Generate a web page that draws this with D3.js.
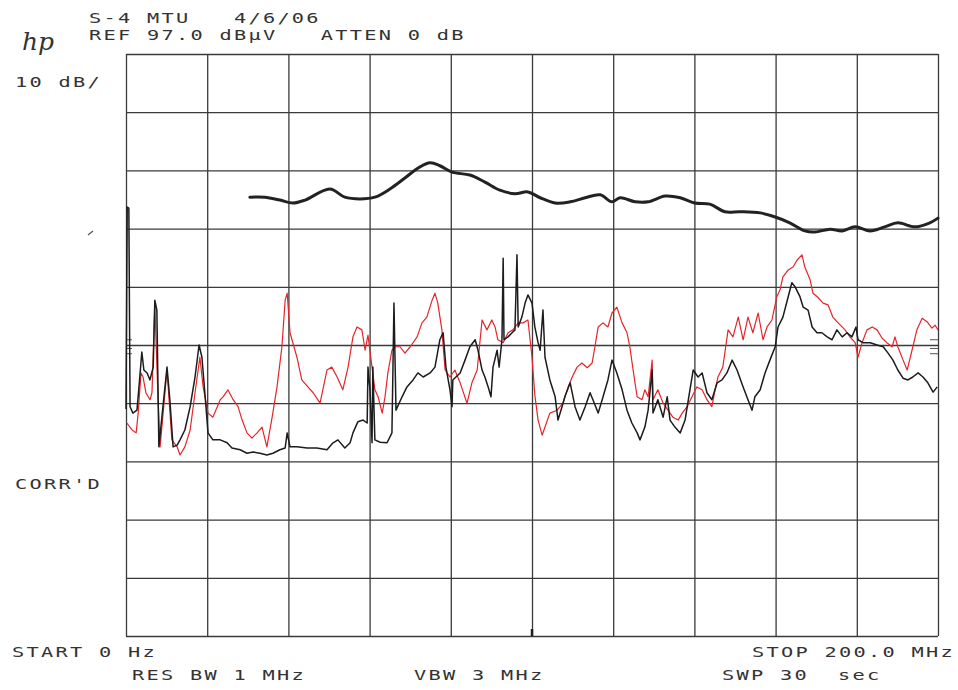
<!DOCTYPE html>
<html>
<head>
<meta charset="utf-8">
<script src="https://cdn.jsdelivr.net/npm/d3@7"></script>
<style>
  html, body { margin: 0; padding: 0; background: #ffffff; }
  svg { display: block; }
</style>
</head>
<body>
<svg id="plot" width="958" height="690"></svg>
<script>
// Spectrum analyzer sweep: 0-200 MHz, REF 97.0 dBuV, 10 dB/div

// Graticule divisions
const gridFreq = [0, 20, 40, 60, 80, 100, 120, 140, 160, 180, 200];      // MHz
const gridLevel = [-3, 7, 17, 27, 37, 47, 57, 67, 77, 87, 97];           // dBuV

// Header / footer annotation strings
const headerLines = ["S-4 MTU   4/6/06", "REF 97.0 dB\u00B5V   ATTEN 0 dB"];
const scaleLabel = "10 dB/";
const corrLabel = "CORR'D";
const startLabel = "START 0 Hz";
const stopLabel = "STOP 200.0 MHz";
const footerLabels = ["RES BW 1 MHz", "VBW 3 MHz", "SWP 30  sec"];

// Limit line [MHz, dBuV]
const limitLine = [
  [30.5,72.4],[34.2,72.4],[37.9,71.9],[41.1,71.4],[44.1,71.9],[50.2,73.8],[53.9,72.4],
  [57.6,72.1],[61.3,72.4],[65.0,73.8],[68.7,75.7],[72.4,77.6],[74.9,78.3],[77.3,77.8],
  [80.3,76.7],[84.7,76.2],[88.4,75.0],[92.1,73.6],[95.8,73.0],[99.0,73.3],[102.0,72.3],
  [105.7,71.4],[109.4,71.6],[113.1,72.3],[116.8,72.8],[119.7,71.6],[121.7,72.3],
  [125.4,71.6],[128.6,71.6],[132.8,72.6],[136.5,72.3],[140.1,71.4],[143.8,71.2],
  [147.5,69.9],[151.2,69.9],[156.2,69.7],[159.9,69.0],[163.5,68.0],[167.2,66.6],
  [169.7,66.4],[173.4,66.9],[176.4,66.6],[179.6,67.3],[183.3,66.6],[186.9,67.3],
  [190.1,68.0],[194.3,67.3],[198.0,68.0],[200.0,68.8]
];

// Trace A (red) [MHz, dBuV]
const redTrace = [
  [0.2,33.6],[1.5,32.4],[2.5,31.9],[3.0,35.3],[3.7,42.2],[4.2,41.5],[4.9,38.8],[5.9,37.6],
  [6.4,38.8],[7.1,53.9],[7.9,37.6],[8.4,29.5],[10.1,42.7],[11.3,30.7],[12.6,29.5],[13.3,28.1],
  [14.5,29.5],[15.8,32.4],[17.0,38.8],[18.2,44.9],[19.0,39.8],[20.2,35.3],[21.4,34.6],
  [23.2,37.6],[23.9,38.1],[25.1,39.3],[26.4,37.6],[27.6,36.4],[28.6,34.1],[29.8,31.9],
  [31.0,31.0],[32.3,31.9],[33.5,32.9],[34.7,29.5],[36.0,34.6],[37.2,39.8],[38.4,46.7],
  [39.2,54.7],[39.7,55.9],[40.4,49.1],[42.1,44.9],[43.3,41.0],[44.8,39.8],[46.1,38.8],
  [47.8,37.0],[49.5,42.7],[50.7,43.2],[52.0,41.5],[53.4,39.3],[54.7,43.2],[55.9,48.4],
  [56.9,50.1],[58.1,49.6],[58.9,46.1],[59.6,48.7],[60.6,43.2],[61.3,39.3],[62.1,38.1],
  [63.1,35.3],[63.8,38.1],[64.5,42.2],[65.5,46.1],[66.3,46.7],[67.5,46.7],[68.7,45.6],
  [70.0,46.7],[71.7,48.4],[72.9,50.8],[74.1,51.8],[75.4,54.7],[76.1,55.9],[76.8,54.2],
  [77.8,49.6],[78.6,42.7],[79.8,41.5],[81.0,42.7],[82.3,40.5],[84.0,37.0],[85.2,40.5],
  [86.5,42.7],[87.7,51.3],[88.9,49.6],[90.1,51.3],[90.9,50.1],[91.6,47.9],[92.9,47.4],
  [94.1,49.1],[95.3,49.6],[96.6,50.8],[97.8,50.8],[99.0,51.3],[100.0,44.9],[100.7,38.4],
  [101.5,34.1],[102.5,31.5],[103.2,32.9],[104.4,35.3],[106.2,35.8],[107.6,37.0],[108.9,39.8],
  [109.9,41.5],[111.1,43.2],[112.3,43.9],[113.6,43.1],[114.8,43.9],[115.5,46.7],[116.3,50.1],
  [117.5,50.8],[118.7,50.1],[119.7,52.5],[120.9,53.5],[122.2,50.8],[123.4,49.1],[124.1,46.7],
  [124.9,42.7],[125.9,38.1],[127.1,37.6],[127.8,39.3],[128.6,38.1],[129.6,44.4],[129.8,37.6],
  [131.0,39.3],[132.3,37.0],[133.5,35.8],[134.7,34.6],[136.0,34.1],[137.0,35.3],[138.2,36.4],
  [139.4,38.1],[140.6,39.8],[141.9,39.3],[143.1,37.6],[144.3,36.4],[145.1,39.3],[145.8,41.5],
  [147.0,43.2],[148.3,49.6],[149.5,48.4],[150.8,51.8],[152.0,47.9],[153.2,51.8],[154.4,49.1],
  [155.7,52.5],[156.9,47.9],[157.9,50.1],[159.1,51.3],[160.3,55.3],[161.1,56.5],[161.8,58.7],
  [163.1,59.9],[164.3,60.4],[165.3,61.6],[166.5,62.5],[167.2,60.4],[168.5,58.2],[169.2,55.9],
  [170.4,55.2],[171.7,54.2],[172.9,53.9],[174.1,51.8],[175.4,50.8],[177.1,49.6],[178.3,48.4],
  [179.6,47.4],[180.3,44.9],[181.3,47.4],[182.5,49.6],[183.8,50.1],[185.0,49.6],[186.2,48.2],
  [187.4,47.4],[188.7,46.7],[189.4,48.4],[190.1,46.7],[191.4,44.4],[192.4,42.7],[193.6,46.1],
  [194.8,49.6],[196.1,51.6],[197.3,51.0],[198.5,49.9],[199.3,50.4],[200.0,49.6]
];

// Trace B (black) [MHz, dBuV]
const blackTrace = [
  [0.0,36.0],[0.3,70.7],[0.7,70.5],[1.0,36.4],[1.7,35.3],[2.7,35.8],[3.2,39.8],[3.9,45.8],
  [4.4,42.7],[5.2,42.2],[5.9,41.0],[6.7,43.2],[7.1,54.7],[7.6,53.0],[8.1,29.5],[9.1,36.4],
  [10.1,43.2],[10.8,37.6],[11.6,29.5],[12.6,29.8],[13.3,30.7],[14.5,32.4],[15.8,36.4],
  [17.0,41.5],[18.0,47.0],[18.7,44.9],[19.5,38.1],[20.2,31.9],[21.4,30.7],[23.2,30.7],
  [24.9,30.2],[26.1,29.3],[28.1,29.0],[29.8,28.4],[31.3,28.6],[33.0,28.4],[34.7,28.1],
  [36.2,28.4],[37.9,29.0],[39.2,29.3],[39.7,31.9],[40.4,29.5],[42.1,29.5],[44.6,29.3],
  [47.0,29.3],[49.5,29.0],[51.0,30.2],[52.2,30.7],[53.9,29.3],[55.2,30.2],[55.9,31.9],
  [57.1,33.8],[58.4,34.1],[59.4,33.6],[59.6,43.2],[60.1,39.3],[60.6,30.2],[60.8,43.2],
  [61.3,30.7],[62.6,30.3],[64.3,30.2],[65.5,31.9],[66.0,54.2],[66.5,35.8],[68.0,38.1],
  [69.2,39.8],[70.7,41.0],[71.9,42.2],[73.2,41.5],[74.9,42.2],[76.1,43.2],[77.3,47.9],
  [78.1,49.1],[78.8,43.2],[79.8,39.3],[80.3,36.4],[80.5,41.0],[82.3,42.2],[83.5,44.4],
  [84.7,46.7],[86.0,47.9],[86.7,46.1],[87.7,42.7],[88.4,41.5],[89.2,39.8],[89.9,38.1],
  [90.4,43.2],[91.4,46.1],[91.9,43.2],[92.6,47.9],[92.9,61.9],[93.1,47.9],[94.1,48.4],
  [95.1,49.1],[95.8,49.6],[96.3,62.5],[96.6,50.1],[97.5,51.8],[98.3,54.2],[99.0,55.6],
  [100.0,54.2],[100.7,50.1],[101.5,47.4],[102.0,46.1],[102.7,53.0],[103.2,44.9],[104.4,41.0],
  [105.7,38.1],[106.4,34.1],[107.4,36.4],[108.1,38.1],[109.4,40.5],[110.6,36.4],[111.8,34.1],
  [113.1,36.4],[114.3,38.8],[115.0,37.6],[116.3,35.3],[117.5,38.1],[118.7,41.0],[119.7,44.4],
  [120.9,42.2],[122.2,39.3],[123.4,35.8],[124.6,33.6],[125.9,31.9],[126.6,30.7],[127.8,32.9],
  [128.6,35.8],[129.6,42.7],[129.8,35.3],[131.0,37.6],[132.3,34.6],[133.3,38.1],[134.0,34.1],
  [135.2,32.9],[136.5,31.9],[137.7,34.1],[138.9,39.3],[139.7,42.7],[140.9,41.5],[141.9,42.2],
  [143.1,38.8],[144.3,37.6],[145.6,40.5],[146.8,41.0],[148.0,42.2],[149.3,44.4],[150.5,42.7],
  [152.0,39.8],[153.2,37.6],[154.2,35.8],[154.9,38.1],[156.2,39.3],[157.4,42.2],[158.6,44.4],
  [159.9,46.7],[160.6,50.1],[161.8,51.8],[163.1,55.3],[164.0,57.7],[164.8,57.0],[166.0,55.3],
  [166.8,53.5],[168.0,53.0],[169.0,50.1],[170.2,49.1],[171.4,49.1],[172.7,48.4],[173.9,47.9],
  [175.1,49.6],[176.4,48.4],[177.6,49.1],[178.8,48.4],[179.8,50.1],[180.3,47.9],[181.5,47.4],
  [183.3,47.4],[185.0,47.0],[186.5,46.7],[187.7,45.6],[188.9,44.4],[190.1,42.7],[191.4,41.3],
  [192.6,41.0],[193.8,41.5],[195.1,42.2],[196.3,41.5],[197.5,40.5],[198.8,38.9],[199.8,39.8]
];

// Reference-level marker positions on the graticule edges [MHz, dBuV]
const edgeMarks = [[0, 47.9], [0, 46.4], [0, 45.5], [200, 47.9], [200, 46.4], [200, 45.5]];

const svg = d3.select("#plot");
const plotLeft = 126, plotRight = 938, plotTop = 54, plotBottom = 636;

const x = d3.scaleLinear().domain([0, 200]).range([plotLeft, plotRight]);
const y = d3.scaleLinear().domain([-3, 97]).range([plotBottom, plotTop]);

const ink = "#333333";

// Graticule
const grid = svg.append("g").attr("class", "graticule");
grid.append("g")
  .attr("transform", `translate(0,${plotBottom})`)
  .call(d3.axisBottom(x).tickValues(gridFreq).tickSize(-(plotBottom - plotTop)).tickFormat("").tickSizeOuter(0))
  .call(g => g.select(".domain").remove());
grid.append("g")
  .attr("transform", `translate(${plotLeft},0)`)
  .call(d3.axisLeft(y).tickValues(gridLevel).tickSize(-(plotRight - plotLeft)).tickFormat("").tickSizeOuter(0))
  .call(g => g.select(".domain").remove());
grid.selectAll("line").attr("stroke", "#3a3a3a").attr("stroke-width", 1.3);

// Center-frequency marker at bottom edge
svg.append("line")
  .attr("x1", x(100)).attr("x2", x(100))
  .attr("y1", plotBottom - 7).attr("y2", plotBottom)
  .attr("stroke", "#222").attr("stroke-width", 2.5);

// Edge markers
svg.selectAll(".edge-mark").data(edgeMarks).join("line")
  .attr("class", "edge-mark")
  .attr("x1", d => d[0] === 0 ? x(0) : x(200) - 8)
  .attr("x2", d => d[0] === 0 ? x(0) + 6 : x(200))
  .attr("y1", d => y(d[1])).attr("y2", d => y(d[1]))
  .attr("stroke", "#555").attr("stroke-width", 1);

// small plotter tick left of the graticule
svg.append("line")
  .attr("x1", 88).attr("y1", 235).attr("x2", 93).attr("y2", 231)
  .attr("stroke", "#555").attr("stroke-width", 1.2);

const line = d3.line().x(d => x(d[0])).y(d => y(d[1]));

// Traces
svg.append("path").datum(redTrace)
  .attr("d", line)
  .attr("fill", "none").attr("stroke", "#e5252a").attr("stroke-width", 1.2)
  .attr("stroke-linejoin", "round");

svg.append("path").datum(blackTrace)
  .attr("d", line)
  .attr("fill", "none").attr("stroke", "#1c1c1c").attr("stroke-width", 1.5)
  .attr("stroke-linejoin", "round");

svg.append("path").datum(limitLine)
  .attr("d", d3.line().x(d => x(d[0])).y(d => y(d[1])).curve(d3.curveCatmullRom.alpha(0.5)))
  .attr("fill", "none").attr("stroke", "#222").attr("stroke-width", 3)
  .attr("stroke-linejoin", "round").attr("stroke-linecap", "round");

// Plotter-style text: monospace, widened, fixed character pitch
const pitch = 14.5, stretch = 1.45, fontSize = 14;
function plotText(str, px, py) {
  const advance = 0.602 * fontSize;
  svg.append("text")
    .attr("transform", `translate(${px},${py}) scale(${stretch},1)`)
    .attr("font-family", "DejaVu Sans Mono, Liberation Mono, monospace")
    .attr("font-size", fontSize)
    .attr("fill", ink)
    .style("letter-spacing", (pitch / stretch - advance) + "px")
    .style("white-space", "pre")
    .attr("xml:space", "preserve")
    .text(str);
}

plotText(headerLines[0], 89, 23);
plotText(headerLines[1], 89, 40);
plotText(scaleLabel, 15, 87);
plotText(corrLabel, 15, 489);
plotText(startLabel, 12, 657);
plotText(stopLabel, 752, 657);
plotText(footerLabels[0], 132, 680);
plotText(footerLabels[1], 414, 680);
plotText(footerLabels[2], 722, 680);

// Maker logo
svg.append("text")
  .attr("x", 22).attr("y", 50)
  .attr("font-family", "DejaVu Serif, serif")
  .attr("font-style", "italic")
  .attr("font-size", 25)
  .attr("fill", ink)
  .text("hp");
</script>
</body>
</html>
